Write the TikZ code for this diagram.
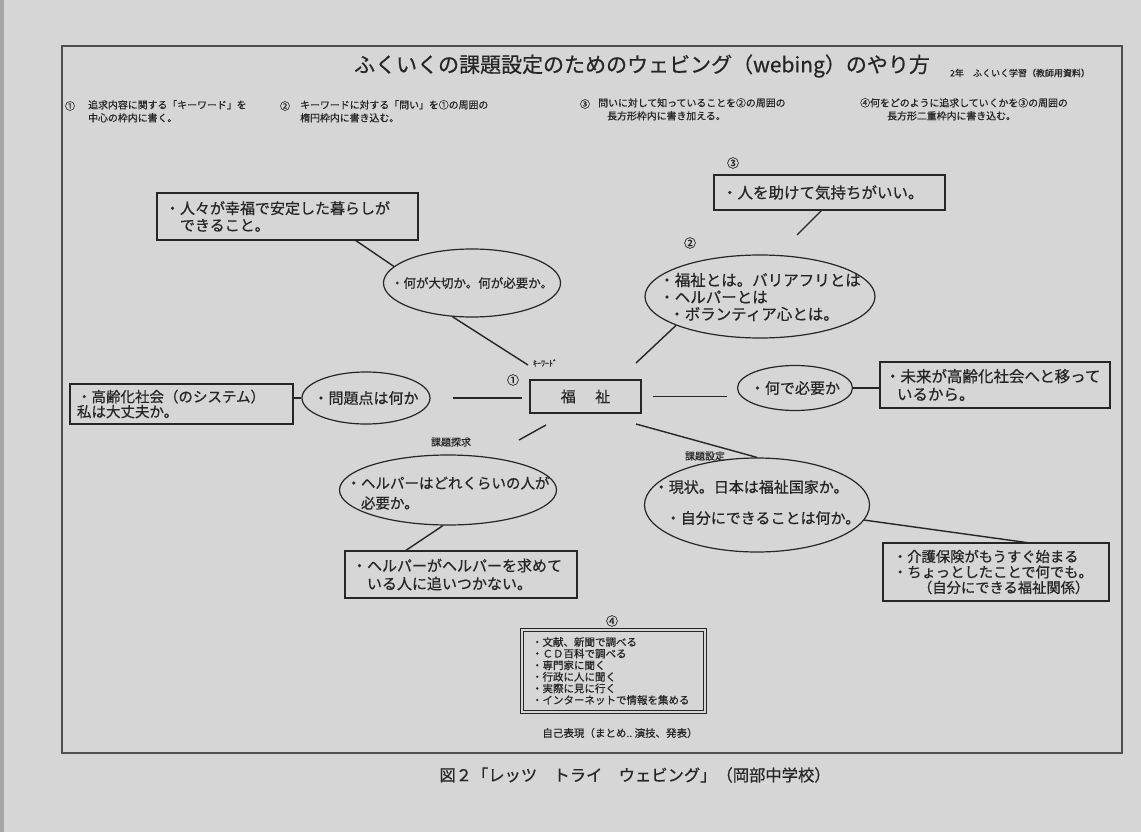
\documentclass[tikz,border=0pt]{standalone}
\usepackage{fontspec}
\setmainfont{Noto Sans CJK JP}[FakeBold=0.6]
\usetikzlibrary{shapes.geometric}
\definecolor{bg}{HTML}{D6D6D6}
\definecolor{ink}{HTML}{262626}
\definecolor{framec}{HTML}{505050}
\newcommand{\myfs}[2]{\fontsize{#1}{#2}\selectfont}
\begin{document}
\begin{tikzpicture}[x=1pt,y=-1pt,
  every node/.style={text=ink, inner sep=0pt},
  conn/.style={draw=ink, line width=1.4pt},
  rbox/.style={draw=ink, line width=1.3pt, rectangle, align=left},
  ell/.style={draw=ink, line width=1.2pt, ellipse},
  instr/.style={anchor=north west, align=left, font=\myfs{9.9}{13}},
  num/.style={font=\myfs{12}{12}},
  tag/.style={font=\myfs{10}{10}},
]
\fill[bg] (0,0) rectangle (1141,832);
\useasboundingbox (0,0) rectangle (1141,832);
\fill[black!35] (0,0) rectangle (4,832);
% frame
\draw[framec, line width=1.1pt] (62,46) rectangle (1122,753);

% title
\node[font=\myfs{21}{24}] (title) at (642,66) {ふくいくの課題設定のためのウェビング（webing）のやり方};
\node[font=\myfs{9}{9}] (grade) at (1020,73) {2年　ふくいく学習（教師用資料）};

% instructions
\node[num, font=\myfs{10}{10}] (in1) at (70,106) {①};
\node[instr] (it1) at (88,100) {追求内容に関する「キーワード」を\\中心の枠内に書く。};
\node[num, font=\myfs{10}{10}] (in2) at (285,106) {②};
\node[instr] (it2) at (300,100) {キーワードに対する「問い」を①の周囲の\\楕円枠内に書き込む。};
\node[num, font=\myfs{10}{10}] (in3) at (585,104) {③};
\node[instr] (it3) at (598,98) {問いに対して知っていることを②の周囲の\\\hspace{9pt}長方形枠内に書き加える。};
\node[instr] (it4) at (860,98) {④何をどのように追求していくかを③の周囲の\\\hspace{27pt}長方形二重枠内に書き込む。};

% centre keyword
\node[rbox, minimum width=111, minimum height=33, font=\myfs{15}{15}] (key) at (585.5,396.5) {福\hspace{1.3em}祉};
\node[font=\myfs{8}{8}] (kwlab) at (545,363) {ｷｰﾜｰﾄﾞ};
\node[num] (n1) at (513,380) {①};

% upper left
\node[rbox, minimum width=261, minimum height=47, inner xsep=8, text width=245, font=\myfs{15}{17}] (r1) at (287.5,216.5) {・人々が幸福で安定した暮らしが\\　できること。};
\node[ell, minimum width=177, minimum height=68] (e1) at (472,283) {};
\node[font=\myfs{12.5}{15}] (e1t) at (e1) {・何が大切か。何が必要か。};

% upper right
\node[num] (n3) at (733,163) {③};
\node[rbox, minimum width=231, minimum height=35, inner xsep=8, text width=215, font=\myfs{15.5}{17}] (r3) at (829.5,192.5) {・人を助けて気持ちがいい。};
\node[num] (n2) at (690,243) {②};
\node[ell, minimum width=230, minimum height=83] (e2) at (760,296.5) {};
\node[align=left, font=\myfs{15.5}{17}] (e2t) at (760,297) {・福祉とは。バリアフリとは\\・ヘルパーとは\\\hspace{10pt}・ボランティア心とは。};

% right
\node[ell, minimum width=115, minimum height=45] (e3) at (795,388) {};
\node[font=\myfs{15}{15}] (e3t) at (e3) {・何で必要か};
\node[rbox, minimum width=230, minimum height=46, inner xsep=5, text width=220, font=\myfs{15.5}{18}] (r4) at (995,385) {・未来が高齢化社会へと移って\\\hspace{12pt}いるから。};

% left
\node[rbox, minimum width=223, minimum height=40, inner xsep=7, text width=209, font=\myfs{14.5}{15}] (r5) at (181.5,404) {・高齢化社会（のシステム）\\私は大丈夫か。};
\node[ell, minimum width=128, minimum height=52] (e4) at (366,398) {};
\node[font=\myfs{15}{15}] (e4t) at (e4) {・問題点は何か};

% lower left
\node[tag] (tg1) at (451,442) {課題探求};
\node[ell, minimum width=217, minimum height=70] (e5) at (448,490) {};
\node[align=left, font=\myfs{14.5}{20}] (e5t) at (448,493) {・ヘルパーはどれくらいの人が\\　必要か。};
\node[rbox, minimum width=232, minimum height=47, inner xsep=7, text width=218, font=\myfs{15}{18}] (r6) at (461,574.5) {・ヘルパーがヘルパーを求めて\\　いる人に追いつかない。};

% lower right
\node[tag] (tg2) at (705,456) {課題設定};
\node[ell, minimum width=225, minimum height=94] (e6) at (757,505) {};
\node[align=left, font=\myfs{15}{31}] (e6t) at (757,502.5) {・現状。日本は福祉国家か。\\\hspace{12pt}・自分にできることは何か。};
\node[rbox, minimum width=226, minimum height=58, inner xsep=10, text width=206, font=\myfs{14.3}{15.5}] (r7) at (996,572) {・介護保険がもうすぐ始まる\\・ちょっとしたことで何でも。\\\hspace{25pt}（自分にできる福祉関係）};

% bottom
\node[num] (n4) at (612,621) {④};
\node[rectangle, draw=ink, line width=0.9pt, double=bg, double distance=1.8pt, minimum width=183, minimum height=82, inner xsep=10, text width=163, align=left, font=\myfs{10.5}{11.6}] (r8) at (613.5,671) {・文献、新聞で調べる\\・ＣＤ百科で調べる\\・専門家に聞く\\・行政に人に聞く\\・実際に見に行く\\・インターネットで情報を集める};
\node[font=\myfs{10.5}{10.5}] (self) at (620,733) {自己表現（まとめ..\ 演技、発表）};

% caption
\node[font=\myfs{16.3}{16.3}] (cap) at (635,775) {図２「レッツ　トライ　ウェビング」（岡部中学校）};

% connector ends
\coordinate (c1) at (355,240);
\coordinate (kw1) at (528,365);
\coordinate (c3a) at (822,210);
\coordinate (c3b) at (797,235);
\coordinate (kw2) at (636,363);
\coordinate (k3) at (546,425);
\coordinate (k4) at (519,440);
\coordinate (k5) at (636,424);
\coordinate (c11) at (405,551);
\coordinate (c12) at (1030,543);

% connectors
\draw[conn] (c1) -- (e1.168);
\draw[conn] (e1.240) -- (kw1);
\draw[conn] (c3a) -- (c3b);
\draw[conn] (e2.199) -- (kw2);
\draw[conn, shorten <=11pt, shorten >=10pt] (key.east) -- (key.east -| e3.west);
\draw[conn] (e3.east) -- (e3.east -| r4.west);
\draw[conn] (e4.west) -- (e4.west -| r5.east);
\draw[conn, shorten <=22pt, shorten >=7pt] (e4.east) -- (e4.east -| key.west);
\draw[conn] (k3) -- (k4);
\draw[conn] (k5) -- (e6.north);
\draw[conn] (e5.262) -- (c11);
\draw[conn] (e6.-8) -- (c12);
\end{tikzpicture}
\end{document}
